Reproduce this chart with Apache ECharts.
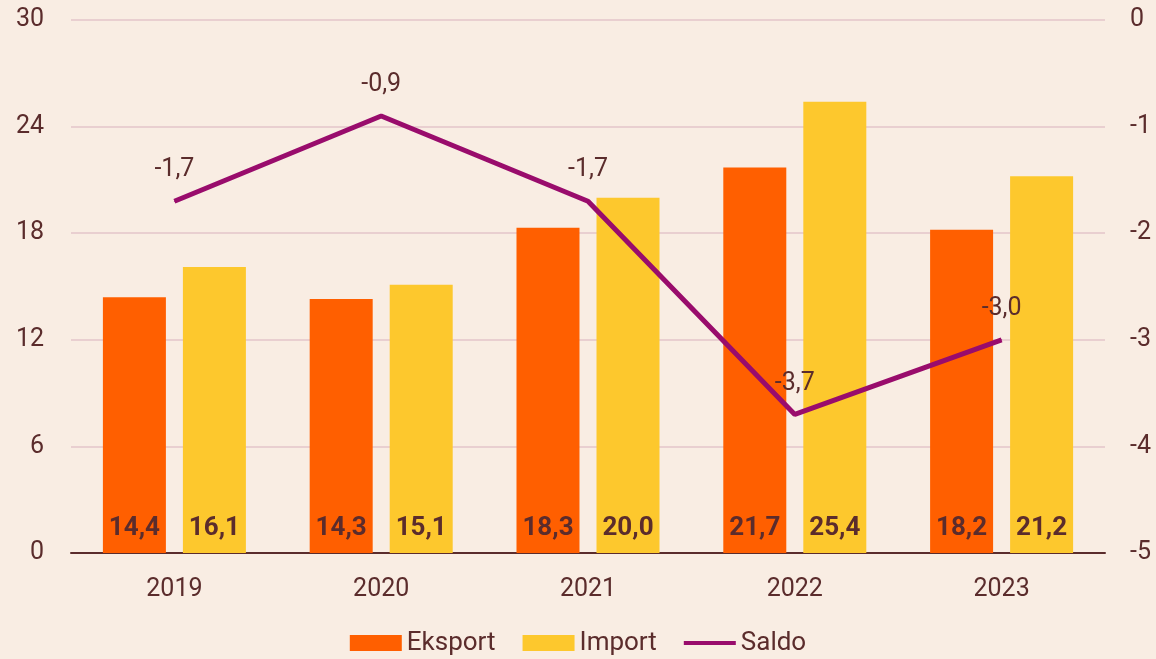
<!DOCTYPE html>
<html>
<head>
<meta charset="utf-8">
<script src="https://cdn.jsdelivr.net/npm/echarts@6/dist/echarts.min.js"></script>
<style>
html, body { margin: 0; padding: 0; background: #f9ede3; }
#chart { width: 1156px; height: 659px; }
</style>
</head>
<body>
<div id="chart"></div>
<script>
const years = ['2019', '2020', '2021', '2022', '2023'];
const eksport = [14.4, 14.3, 18.3, 21.7, 18.2];
const importVals = [16.1, 15.1, 20.0, 25.4, 21.2];
const saldo = [-1.7, -0.9, -1.7, -3.7, -3.0];

const txt = '#5b2c2c';
const font = 'Roboto, "Noto Sans", sans-serif';
function comma(v) { return v.toFixed(1).replace('.', ','); }

const barLabel = {
    show: true,
    position: 'insideBottom',
    distance: 12,
    fontSize: 26,
    fontWeight: 'bold',
    fontFamily: font,
    color: txt,
    formatter: p => comma(p.value)
};

echarts.init(document.getElementById('chart')).setOption({
    backgroundColor: '#f9ede3',
    textStyle: { fontFamily: font, color: txt },
    grid: { left: 71, right: 51, top: 20, bottom: 106 },
    legend: {
        bottom: -2,
        left: 'center',
        itemWidth: 52,
        itemHeight: 16,
        itemGap: 27,
        textStyle: { fontSize: 26, color: txt, fontFamily: font, padding: [0, 0, 0, 0] },
        data: [
            { name: 'Eksport', icon: 'rect' },
            { name: 'Import', icon: 'rect' },
            { name: 'Saldo', icon: 'path://M0,0 L104,0 L104,8 L0,8 Z' }
        ]
    },
    xAxis: {
        type: 'category',
        data: years,
        axisTick: { show: false },
        axisLine: { lineStyle: { color: '#5b2c2c', width: 2 } },
        axisLabel: { fontSize: 25, color: txt, margin: 24 }
    },
    yAxis: [{
        type: 'value',
        min: 0, max: 30, interval: 6,
        axisLine: { show: false },
        axisTick: { show: false },
        splitLine: { lineStyle: { color: '#e9cfd0', width: 2 } },
        axisLabel: { fontSize: 25, color: txt, margin: 27 }
    }, {
        type: 'value',
        min: -5, max: 0, interval: 1,
        axisLine: { show: false },
        axisTick: { show: false },
        splitLine: { show: false },
        axisLabel: { fontSize: 25, color: txt, margin: 25 }
    }],
    series: [{
        name: 'Eksport',
        type: 'bar',
        data: eksport,
        barWidth: 63,
        barGap: '27%',
        itemStyle: { color: '#ff5f00' },
        label: barLabel
    }, {
        name: 'Import',
        type: 'bar',
        data: importVals,
        barWidth: 63,
        itemStyle: { color: '#fdc82d' },
        label: barLabel
    }, {
        name: 'Saldo',
        type: 'line',
        yAxisIndex: 1,
        data: saldo,
        symbol: 'circle',
        symbolSize: 1,
        lineStyle: { color: '#990c6c', width: 5 },
        itemStyle: { color: '#990c6c' },
        label: {
            show: true,
            position: 'top',
            distance: 18,
            fontSize: 25,
            color: txt,
            fontFamily: font,
            formatter: p => comma(p.value)
        }
    }]
});
</script>
</body>
</html>
